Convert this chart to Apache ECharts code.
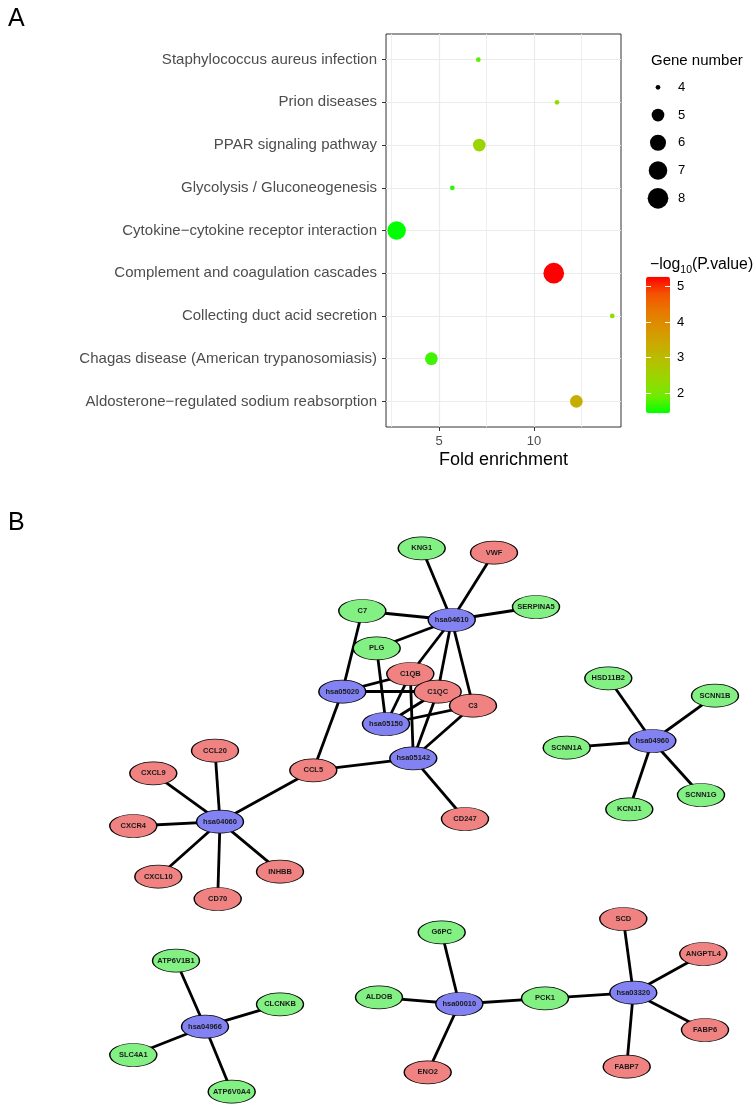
<!DOCTYPE html>
<html>
<head>
<meta charset="utf-8">
<script src="https://cdn.jsdelivr.net/npm/echarts@6/dist/echarts.min.js"></script>
<style>
html,body{margin:0;padding:0;background:#fff;}
#chart{width:754px;height:1106px;}
</style>
</head>
<body>
<div id="chart"></div>
<script>
// ---------------- Panel A data ----------------
const categories = [
  'Staphylococcus aureus infection',
  'Prion diseases',
  'PPAR signaling pathway',
  'Glycolysis / Gluconeogenesis',
  'Cytokine\u2212cytokine receptor interaction',
  'Complement and coagulation cascades',
  'Collecting duct acid secretion',
  'Chagas disease (American trypanosomiasis)',
  'Aldosterone\u2212regulated sodium reabsorption'
];
const foldEnrichment = [7.07, 11.21, 7.12, 5.70, 2.77, 11.04, 14.12, 4.60, 12.23];
const geneNumber     = [4, 4, 5, 4, 7, 8, 4, 5, 5];
const negLog10P      = [1.80, 2.30, 2.45, 1.60, 1.43, 5.28, 2.25, 1.70, 3.30];
const xTicks = [5, 10];
const xMinorTicks = [2.5, 7.5, 12.5];
const sizeLegendValues = [4, 5, 6, 7, 8];
const colorbarTicks = [2, 3, 4, 5];

// ---------------- Panel B data ----------------
const nodeNames = ['KNG1','VWF','SERPINA5','C7','hsa04610','PLG','C1QB','hsa05020','C1QC','C3','hsa05150','hsa05142','CCL5','CD247',
  'hsa04060','CCL20','CXCL9','CXCR4','CXCL10','CD70','INHBB',
  'hsa04960','HSD11B2','SCNN1B','SCNN1A','KCNJ1','SCNN1G',
  'hsa04966','ATP6V1B1','CLCNKB','SLC4A1','ATP6V0A4',
  'hsa00010','G6PC','ALDOB','ENO2','PCK1','hsa03320','SCD','ANGPTL4','FABP6','FABP7'];
const nodeTypes = ['down','up','down','down','pathway','down','up','pathway','up','up','pathway','pathway','up','up',
  'pathway','up','up','up','up','up','up',
  'pathway','down','down','down','down','down',
  'pathway','down','down','down','down',
  'pathway','down','down','up','down','pathway','up','up','up','up'];
const edges = [
  ['hsa04610','KNG1'],['hsa04610','VWF'],['hsa04610','SERPINA5'],['hsa04610','C7'],['hsa04610','PLG'],
  ['hsa04610','C1QB'],['hsa04610','C1QC'],['hsa04610','C3'],
  ['hsa05020','C7'],['hsa05020','C1QB'],['hsa05020','C1QC'],['hsa05020','CCL5'],
  ['hsa05150','PLG'],['hsa05150','C1QB'],['hsa05150','C1QC'],['hsa05150','C3'],
  ['hsa05142','C1QB'],['hsa05142','C1QC'],['hsa05142','C3'],['hsa05142','CCL5'],['hsa05142','CD247'],
  ['hsa04060','CCL5'],['hsa04060','CCL20'],['hsa04060','CXCL9'],['hsa04060','CXCR4'],['hsa04060','CXCL10'],['hsa04060','CD70'],['hsa04060','INHBB'],
  ['hsa04960','HSD11B2'],['hsa04960','SCNN1B'],['hsa04960','SCNN1A'],['hsa04960','KCNJ1'],['hsa04960','SCNN1G'],
  ['hsa04966','ATP6V1B1'],['hsa04966','CLCNKB'],['hsa04966','SLC4A1'],['hsa04966','ATP6V0A4'],
  ['hsa00010','G6PC'],['hsa00010','ALDOB'],['hsa00010','ENO2'],['hsa00010','PCK1'],
  ['hsa03320','PCK1'],['hsa03320','SCD'],['hsa03320','ANGPTL4'],['hsa03320','FABP6'],['hsa03320','FABP7']
];

// ---------------- Layout (network node placement, layout units) ----------------
const nodeX = [421.7,494,536,362.3,451.7,376.7,410.3,342.3,437.7,473,386,413.3,313.3,465,
  220,215,153.3,133.3,158.3,217.7,280,
  652.3,608.3,715,566.7,629.3,701,
  205,176,280,133.3,231.7,
  459.3,441.7,379,427.7,545,633.3,623.3,703.3,705,626.7];
const nodeY = [548.3,552.7,607,611,620,648.3,674,691.7,691.7,705.7,724,758.3,770.3,819,
  821.7,750.7,773.3,826,876.7,899,871.7,
  741,678.3,695.7,747.7,809.3,795,
  1026.7,960.7,1004.3,1055,1091.7,
  1004,932.3,997.3,1072.3,998.3,992.7,919,954,1030,1066.7];

// ---------------- Styles ----------------
const FONT = 'Liberation Sans, Arial, Helvetica, sans-serif';
const typeColor = {pathway:'#8282F2', up:'#F08282', down:'#82F082'};
const gradientStops = ['#00FF00','#70EB00','#98D700','#B3C200','#C9AB00','#DA9300','#E87700','#F45300','#FF0000'];
function sizeFor(n){ return 1.5 + 3.2 * (1 + 5 * Math.sqrt((n - 4) / 4)); }
const ellipse = 'path://M0,10A20,10 0 1 1 40,10A20,10 0 1 1 0,10Z';

const mainData = categories.map((c, i) => [foldEnrichment[i], i, negLog10P[i], geneNumber[i]]);
const pMin = Math.min(...negLog10P), pMax = Math.max(...negLog10P);

const chart = echarts.init(document.getElementById('chart'), null, {renderer:'canvas'});
chart.setOption({
  animation: false,
  backgroundColor: '#fff',
  textStyle: {fontFamily: FONT},
  title: [
    {text:'A', left:3, top:2, textStyle:{fontSize:25, fontWeight:'normal', color:'#000', fontFamily:FONT}},
    {text:'B', left:3, top:506, textStyle:{fontSize:25, fontWeight:'normal', color:'#000', fontFamily:FONT}},
    {text:'Gene number', left:646, top:48, textStyle:{fontSize:15, fontWeight:'normal', color:'#000', fontFamily:FONT}},
    {text:'{a|\u2212log}{s|10}{a|(P.value)}', left:645, top:249,
     textStyle:{fontFamily:FONT, fontWeight:'normal', rich:{
       a:{fontSize:15.8, fontWeight:'normal', color:'#000', lineHeight:22, fontFamily:FONT},
       s:{fontSize:10.5, fontWeight:'normal', color:'#000', lineHeight:11, verticalAlign:'bottom', fontFamily:FONT}
     }}}
  ],
  grid: [
    {left:386, top:34, width:235, height:393, show:true, borderColor:'#333', borderWidth:1, backgroundColor:'#fff', containLabel:false},
    {left:646, top:73.4, width:24, height:138.75, containLabel:false},
    {left:646, top:276.7, width:24, height:136.6, containLabel:false},
    {left:0, top:0, width:754, height:1106, containLabel:false}
  ],
  xAxis: [
    {type:'value', gridIndex:0, min:2.21, max:14.58, position:'bottom',
     name:'Fold enrichment', nameLocation:'middle', nameGap:24,
     nameTextStyle:{fontSize:18, color:'#000', fontFamily:FONT},
     axisLine:{show:false, onZero:false},
     axisTick:{show:true, length:4, customValues:xTicks, lineStyle:{color:'#333', width:1}},
     axisLabel:{customValues:xTicks, fontSize:13, color:'#4D4D4D', margin:8, fontFamily:FONT},
     splitLine:{show:true, lineStyle:{color:'#EBEBEB', width:1.2}}},
    {type:'value', gridIndex:0, min:2.21, max:14.58, position:'top',
     axisLine:{show:false, onZero:false}, axisLabel:{show:false},
     axisTick:{show:false, customValues:xMinorTicks},
     splitLine:{show:true, lineStyle:{color:'#EDEDED', width:0.9}}},
    {type:'value', gridIndex:1, min:-1, max:1, show:false},
    {type:'value', gridIndex:2, min:0, max:1, show:false},
    {type:'value', gridIndex:3, min:0, max:754, show:false}
  ],
  yAxis: [
    {type:'value', gridIndex:0, min:-0.6, max:8.6, inverse:true,
     axisLine:{show:false, onZero:false},
     axisTick:{show:true, length:4, customValues:[0,1,2,3,4,5,6,7,8], lineStyle:{color:'#333', width:1}},
     axisLabel:{customValues:[0,1,2,3,4,5,6,7,8], formatter:v => categories[Math.round(v)], fontSize:15, color:'#4D4D4D', margin:9, fontFamily:FONT},
     splitLine:{show:true, lineStyle:{color:'#EBEBEB', width:1.2}}},
    {type:'value', gridIndex:1, min:3.5, max:8.5, inverse:true, position:'right',
     axisLine:{show:false, onZero:false}, axisTick:{show:false, customValues:sizeLegendValues}, splitLine:{show:false},
     axisLabel:{customValues:sizeLegendValues, fontSize:13, color:'#000', margin:8, fontFamily:FONT}},
    {type:'value', gridIndex:2, min:pMin, max:pMax, position:'right', z:10,
     axisLine:{show:false, onZero:false}, splitLine:{show:false},
     axisTick:{show:true, inside:true, length:5, customValues:colorbarTicks, lineStyle:{color:'#fff', width:1}},
     axisLabel:{customValues:colorbarTicks, fontSize:13, color:'#000', margin:7, fontFamily:FONT}},
    {type:'value', gridIndex:2, min:pMin, max:pMax, position:'left', z:10,
     axisLine:{show:false, onZero:false}, splitLine:{show:false}, axisLabel:{show:false},
     axisTick:{show:true, inside:true, length:5, customValues:colorbarTicks, lineStyle:{color:'#fff', width:1}}},
    {type:'value', gridIndex:3, min:0, max:1106, inverse:true, show:false}
  ],
  visualMap: [{
    type:'continuous', seriesIndex:0, dimension:2, min:pMin, max:pMax,
    left:646, top:276.7, itemWidth:24, itemHeight:136.6, padding:0,
    calculable:false, hoverLink:false, text:null, showLabel:false,
    inRange:{color:gradientStops}
  }],
  series: [
    {type:'scatter', xAxisIndex:0, yAxisIndex:0, data:mainData,
     encode:{x:0, y:1}, symbol:'circle',
     symbolSize: v => sizeFor(v[3]), itemStyle:{opacity:1}, z:5},
    {type:'scatter', xAxisIndex:2, yAxisIndex:1,
     data: sizeLegendValues.map(v => [0, v]),
     symbol:'circle', symbolSize: v => sizeFor(v[1]),
     itemStyle:{color:'#000', opacity:1}, silent:true},
    {type:'graph', coordinateSystem:'cartesian2d', xAxisIndex:4, yAxisIndex:4, layout:'none',
     symbol:ellipse, symbolSize:[47,23],
     data: nodeNames.map((n, i) => ({name:n, value:[nodeX[i], nodeY[i]],
       itemStyle:{color:typeColor[nodeTypes[i]], borderColor:'#000', borderWidth:1}})),
     links: edges.map(e => ({source:e[0], target:e[1]})),
     lineStyle:{color:'#000', width:2.8, opacity:1, curveness:0},
     label:{show:true, position:'inside', fontSize:7.5, fontWeight:'bold', color:'#1a1a1a', fontFamily:FONT},
     emphasis:{disabled:true}, silent:true}
  ]
});
</script>
</body>
</html>
